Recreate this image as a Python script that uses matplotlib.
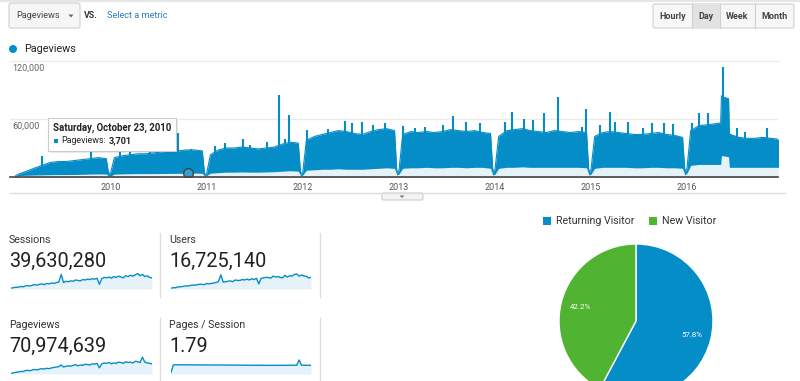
import numpy as np
import pandas as pd
import matplotlib
matplotlib.use("Agg")
import matplotlib.pyplot as plt
from matplotlib.patches import Rectangle, FancyBboxPatch, Circle, Polygon

plt.rcParams["font.family"] = ["Roboto", "DejaVu Sans"]

BLUE = "#058dc7"
LIGHT = "#e6f2fa"
GREEN = "#50b432"
W, H = 800, 381

# --- daily pageviews, read as monthly envelope (thousands), Jan 2009 .. Dec 2016 ---
month_start = "2009-01-01"
weekday_high = [
    3, 6, 9, 12, 15, 16, 16, 17, 18, 19, 20, 19,
    20, 22, 23, 24, 24, 25, 26, 27, 27, 28, 28, 27,
    23, 28, 30, 30, 31, 30, 29, 30, 31, 34, 36, 35,
    38, 42, 44, 46, 48, 47, 45, 44, 47, 49, 50, 48,
    44, 47, 46, 47, 46, 47, 49, 48, 47, 48, 46, 45,
    42, 48, 49, 50, 48, 47, 46, 48, 47, 46, 47, 46,
    42, 46, 47, 46, 45, 44, 44, 45, 46, 44, 43, 41,
    48, 53, 54, 55, 83, 44, 41, 40, 40, 41, 40, 39,
]
weekend_low = [
    1.5, 1.8, 2, 2.2, 2.4, 2.5, 2.5, 2.6, 2.8, 3, 3.2, 3,
    3, 3.2, 3.4, 3.5, 3.5, 3.5, 3.6, 3.7, 3.8, 3.9, 4, 3.8,
    4, 4.5, 5, 5, 5.2, 5, 5, 5.2, 5.5, 6, 6.5, 6,
    7, 7.5, 8, 8, 8.5, 8, 8, 8, 8.5, 9, 9.5, 9,
    9, 9.5, 9.5, 10, 9.5, 9.5, 10, 10, 9.5, 10, 10, 9,
    9, 10, 10, 10.5, 10, 10, 10, 10, 10, 10, 10, 9.5,
    9, 10, 10, 10, 10, 9.5, 9.5, 10, 10, 9.5, 9.5, 9,
    12, 13, 13, 13, 22, 10, 10, 10, 10, 10, 10, 10,
]

# holiday dips and the May 2016 plateau edges
extra_dates = [
    "2009-01-03",
    "2009-12-24", "2010-01-01", "2010-12-24", "2011-01-01",
    "2011-12-24", "2012-01-01", "2012-12-24", "2013-01-01",
    "2013-12-24", "2014-01-01", "2014-12-24", "2015-01-01",
    "2015-12-24", "2016-01-01",
    "2016-05-08", "2016-05-11", "2016-06-07", "2016-06-10",
]
extra_high = [1, 3, 5, 2, 4, 3, 5, 4, 7, 5, 8, 4, 8, 5, 9, 56, 84, 81, 44]
extra_low = [0.5, 1, 1.2, 1, 1.5, 1.5, 2, 2, 3, 2, 3, 2, 3, 2, 4, 13, 22, 21, 10]

# single-day spikes (thousands)
spike_dates = [
    "2009-04-13", "2009-10-19", "2010-02-04", "2010-03-14", "2010-05-29",
    "2010-06-29", "2010-09-14", "2010-11-04", "2011-01-31", "2011-03-10",
    "2011-05-17", "2011-06-13", "2011-08-17", "2011-10-01", "2011-10-24",
    "2011-11-08", "2012-01-16", "2012-04-05", "2012-06-09", "2012-07-08",
    "2012-08-12", "2012-09-23", "2012-11-08", "2013-01-16", "2013-03-02",
    "2013-04-09", "2013-06-17", "2013-07-24", "2013-09-12", "2013-11-04",
    "2014-02-08", "2014-03-06", "2014-04-20", "2014-05-25", "2014-07-08",
    "2014-08-27", "2014-11-27", "2014-12-12", "2015-02-04", "2015-03-13",
    "2015-04-01", "2015-05-21", "2015-07-17", "2015-08-20", "2015-10-07",
    "2015-11-08", "2016-01-19", "2016-02-15", "2016-03-20", "2016-05-17",
    "2016-07-09", "2016-08-09", "2016-10-30",
]
spike_values = [
    22, 26, 26, 28, 30, 31, 46, 29, 32, 35,
    39, 33, 36, 85, 39, 64, 49, 50, 58, 56,
    57, 54, 56, 53, 51, 52, 54, 63, 57, 56,
    57, 67, 60, 59, 66, 83, 52, 70, 54, 67,
    57, 57, 51, 56, 56, 55, 56, 66, 66, 114,
    51, 47, 51,
]

hover_date = "2010-10-23"
hover_value = 3701
year_labels = ["2010", "2011", "2012", "2013", "2014", "2015", "2016"]

# --- scorecards ---
card_labels = ["Sessions", "Users", "Pageviews", "Pages / Session"]
card_values = ["39,630,280", "16,725,140", "70,974,639", "1.79"]
sessions_spark = [
    2, 3, 4, 4, 6, 5, 7, 8, 7, 9, 10, 9, 11, 12, 10, 13, 12, 14, 13, 15,
    16, 34, 15, 18, 17, 19, 18, 21, 20, 19, 22, 21, 23, 22, 24, 23, 25, 11,
    24, 27, 26, 28, 25, 29, 27, 30, 28, 26, 31, 29, 32, 30, 33, 36, 31, 34,
    29, 31, 27, 26,
]
users_spark = [
    2, 3, 3, 5, 5, 6, 7, 7, 8, 9, 9, 10, 11, 11, 10, 13, 12, 13, 14, 15,
    17, 33, 16, 17, 18, 19, 17, 21, 20, 20, 22, 21, 23, 21, 24, 22, 25, 12,
    25, 26, 27, 27, 25, 30, 28, 29, 27, 26, 32, 28, 31, 30, 34, 35, 30, 33,
    30, 30, 26, 27,
]
pageviews_spark = [
    1, 3, 4, 5, 6, 6, 8, 9, 8, 10, 11, 10, 12, 13, 12, 14, 13, 15, 16, 17,
    18, 22, 17, 19, 20, 19, 21, 23, 20, 22, 21, 24, 23, 22, 25, 24, 26, 15,
    25, 27, 26, 28, 25, 27, 26, 29, 28, 26, 30, 28, 29, 27, 31, 30, 28, 41,
    29, 27, 26, 25,
]
pps_spark = [
    0.3, 1.82, 1.84, 1.83, 1.85, 1.84, 1.83, 1.84, 1.82, 1.83, 1.82, 1.81,
    1.82, 1.81, 1.80, 1.82, 1.81, 1.80, 1.79, 1.80, 1.81, 1.79, 1.80, 1.78,
    1.79, 1.78, 1.77, 1.78, 1.77, 1.76, 1.77, 1.76, 1.75, 1.76, 1.75, 1.74,
    1.75, 1.74, 1.75, 1.74, 1.73, 1.74, 1.73, 1.74, 1.73, 1.74, 1.73, 1.74,
    1.75, 1.74, 1.75, 1.74, 1.75, 1.74, 2.8, 1.76, 1.75, 1.74, 1.75, 1.74,
]

# --- visitor split ---
visitor_types = ["Returning Visitor", "New Visitor"]
visitor_share = [57.8, 42.2]


def frac(x0, y0, x1, y1):
    # pixel box (top-left origin) -> figure fraction rect
    return [x0 / W, 1 - y1 / H, (x1 - x0) / W, (y1 - y0) / H]


def sparkline(fig, box, values, top):
    sx = fig.add_axes(frac(*box))
    xs = np.arange(len(values))
    sx.fill_between(xs, 0, values, color=LIGHT, lw=0)
    sx.plot(xs, values, color=BLUE, lw=1)
    sx.set_xlim(0, len(values) - 1)
    sx.set_ylim(0, top)
    sx.axis("off")


def main():
    fig = plt.figure(figsize=(W / 100, H / 100), dpi=100)

    # --- main pageviews chart ---
    ax = fig.add_axes(frac(10, 61, 778, 177))
    months = pd.date_range(month_start, periods=len(weekday_high), freq="MS") + pd.Timedelta(days=14)
    df = pd.DataFrame({"date": months, "high": weekday_high, "low": weekend_low})
    extra = pd.DataFrame({"date": pd.to_datetime(extra_dates), "high": extra_high, "low": extra_low})
    df = pd.concat([df, extra]).sort_values("date")
    d = df["date"].values
    ax.vlines(pd.to_datetime(spike_dates), 0, np.array(spike_values) * 1000,
              color=BLUE, lw=1.5, zorder=1.5)
    ax.fill_between(d, 0, df["high"] * 1000, color=BLUE, lw=0, zorder=2)
    ax.plot(d, df["high"] * 1000, color=BLUE, lw=0.8, zorder=2)
    # weekend troughs keep the pale area fill visible under the band
    ax.fill_between(d, 0, df["low"] * 1000, color=LIGHT, lw=0, zorder=3)

    ax.axhline(60000, color="#ececec", lw=1, zorder=0)
    ax.axhline(120000, color="#ececec", lw=1, zorder=0, clip_on=False)
    ax.plot([pd.Timestamp(hover_date)], [hover_value], "o", ms=7, mfc="#3a9fd0",
            mec="#444444", mew=1, zorder=4)

    ax.set_xlim(pd.Timestamp("2008-12-14"), pd.Timestamp("2016-12-12"))
    ax.set_ylim(0, 120000)
    ax.set_xticks([pd.Timestamp(y + "-01-01") for y in year_labels])
    ax.set_xticklabels(year_labels)
    ax.set_yticks([])
    ax.tick_params(axis="x", length=0, pad=4, labelsize=6.5, labelcolor="#555555")
    for s in ["top", "right", "left"]:
        ax.spines[s].set_visible(False)
    ax.spines["bottom"].set_color("#444444")
    ax.spines["bottom"].set_linewidth(1.2)
    ax.spines["bottom"].set_zorder(5)
    ax.patch.set_visible(False)

    # --- scorecard sparklines ---
    sparkline(fig, (11, 271, 152, 289), sessions_spark, 42)
    sparkline(fig, (171, 271, 311, 289), users_spark, 42)
    sparkline(fig, (11, 356, 152, 374), pageviews_spark, 44)
    sparkline(fig, (171, 356, 311, 374), pps_spark, 3.6)

    # --- pie ---
    px = fig.add_axes(frac(559, 244, 713, 398))
    px.pie(visitor_share, colors=[BLUE, GREEN], startangle=90, counterclock=False,
           autopct="%.1f%%", pctdistance=0.75,
           wedgeprops=dict(edgecolor="white", linewidth=1),
           textprops=dict(color="white", fontsize=5.7))
    px.set_xlim(-1, 1)
    px.set_ylim(-1, 1)

    # --- overlay in pixel coords for the UI chrome ---
    ov = fig.add_axes([0, 0, 1, 1])
    ov.set_xlim(0, W)
    ov.set_ylim(H, 0)
    ov.axis("off")
    ov.set_zorder(5)
    ov.patch.set_visible(False)

    ov.plot([0, W], [1, 1], color="#e6e6e6", lw=1.5)

    # metric dropdown
    ov.add_patch(FancyBboxPatch((9, 3), 71, 25, boxstyle="round,pad=0,rounding_size=2",
                                fc="#f6f6f6", ec="#d0d0d0", lw=0.8))
    ov.text(16, 16, "Pageviews", va="center", fontsize=6.6, color="#444444")
    ov.add_patch(Polygon([(68.5, 14.5), (73.5, 14.5), (71, 17.5)], fc="#666666", ec="none"))
    ov.text(84, 15, "VS.", va="center", fontsize=6.3, color="#333333", fontweight="bold")
    ov.text(107, 16, "Select a metric", va="center", fontsize=6.6, color="#2f7bbf")

    # period buttons
    ov.add_patch(FancyBboxPatch((653, 4), 141, 24, boxstyle="round,pad=0,rounding_size=2",
                                fc="#f7f7f7", ec="#d0d0d0", lw=0.8))
    ov.add_patch(Rectangle((692, 4), 28, 24, fc="#e2e2e2", ec="none"))
    for xd in [692, 720, 755]:
        ov.plot([xd, xd], [4, 28], color="#d0d0d0", lw=0.8)
    for lbl, xc in [("Hourly", 672.5), ("Day", 706), ("Week", 737.5), ("Month", 774.5)]:
        ov.text(xc, 16.5, lbl, ha="center", va="center", fontsize=6.5,
                color="#444444", fontweight="bold")

    # chart legend and axis labels
    ov.add_patch(Circle((13, 49), 4, fc=BLUE, ec="none"))
    ov.text(24, 49, "Pageviews", va="center", fontsize=7.8, color="#222222")
    ov.text(12, 68, "120,000", va="center", fontsize=6.5, color="#666666")
    ov.text(12, 126, "60,000", va="center", fontsize=6.5, color="#666666")

    # tooltip
    ov.add_patch(Rectangle((49.5, 119.5), 128, 33, fc="#000000", alpha=0.08, ec="none"))
    ov.add_patch(Rectangle((48, 118), 128, 33, fc="white", ec="#cccccc", lw=0.8))
    ov.text(53, 128, "Saturday, October 23, 2010", va="center", fontsize=6.9,
            fontweight="bold", color="#222222")
    ov.add_patch(Rectangle((53.5, 138.5), 4.5, 4.5, fc=BLUE, ec="none"))
    ov.text(61, 140.5, "Pageviews:", va="center", fontsize=6.4, color="#222222")
    ov.text(108.5, 140.5, "3,701", va="center", fontsize=6.6, fontweight="bold", color="#222222")

    # collapse bar under chart
    ov.plot([10, 785], [193, 193], color="#dddddd", lw=1)
    ov.add_patch(FancyBboxPatch((382, 193), 41, 7, boxstyle="round,pad=0,rounding_size=1.5",
                                fc="#f4f4f4", ec="#cccccc", lw=0.8))
    ov.add_patch(Polygon([(399.5, 195.5), (404.5, 195.5), (402, 198)], fc="#777777", ec="none"))

    # scorecard text and separators
    spots = [(9, 240), (169, 240), (9, 325), (169, 325)]
    for (lx, ly), lbl, val in zip(spots, card_labels, card_values):
        ov.text(lx, ly, lbl, va="center", fontsize=7.7, color="#333333")
        ov.text(lx, ly + 21, val, va="center", fontsize=14.3, color="#222222")
    for xs in [160, 320]:
        ov.plot([xs, xs], [233, 297], color="#dddddd", lw=1)
        ov.plot([xs, xs], [318, 381], color="#dddddd", lw=1)

    # pie legend
    ov.add_patch(Rectangle((543, 217), 8, 8, fc=BLUE, ec="none"))
    ov.text(556, 221.5, visitor_types[0], va="center", fontsize=7.7, color="#333333")
    ov.add_patch(Rectangle((649, 217), 8, 8, fc=GREEN, ec="none"))
    ov.text(662, 221.5, visitor_types[1], va="center", fontsize=7.7, color="#333333")

    fig.savefig("out.png", dpi=100)


if __name__ == "__main__":
    main()
